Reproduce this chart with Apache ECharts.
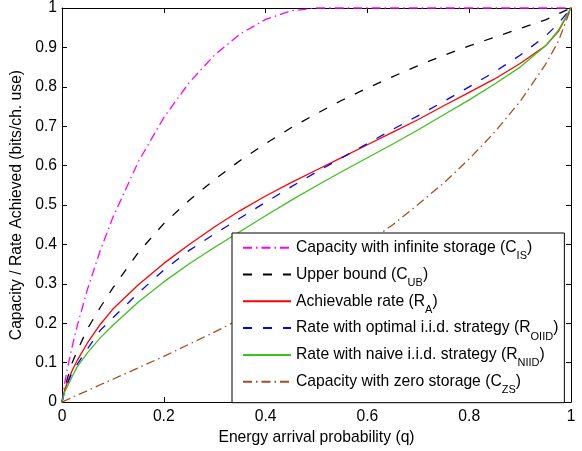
<!DOCTYPE html>
<html>
<head>
<meta charset="utf-8">
<script src="https://cdn.jsdelivr.net/npm/echarts@6/dist/echarts.min.js"></script>
<style>
html,body{margin:0;padding:0;background:#fff;}
#chart{width:582px;height:451px;}
</style>
</head>
<body>
<div id="chart"></div>
<script>
// Energy arrival probability (x)
const q = [0, 0.005, 0.01, 0.02, 0.03, 0.05, 0.075, 0.1, 0.15, 0.2, 0.25, 0.3, 0.35, 0.4, 0.45, 0.5, 0.55, 0.6, 0.65, 0.7, 0.75, 0.8, 0.85, 0.9, 0.95, 0.975, 1];
// Capacity with infinite storage (C_IS)
const cIS = [0, 0.045, 0.081, 0.141, 0.194, 0.286, 0.384, 0.469, 0.61, 0.722, 0.811, 0.881, 0.934, 0.971, 0.993, 1, 1, 1, 1, 1, 1, 1, 1, 1, 1, 1, 1];
// Upper bound (C_UB)
const cUB = [0, 0.033, 0.057, 0.1, 0.13, 0.186, 0.24, 0.29, 0.38, 0.453, 0.512, 0.565, 0.613, 0.656, 0.696, 0.732, 0.766, 0.797, 0.826, 0.854, 0.88, 0.904, 0.926, 0.948, 0.97, 0.985, 1];
// Achievable rate (R_A)
const rA = [0, 0.03, 0.048, 0.08, 0.106, 0.15, 0.197, 0.236, 0.298, 0.352, 0.4, 0.445, 0.486, 0.523, 0.557, 0.589, 0.621, 0.653, 0.685, 0.717, 0.752, 0.786, 0.82, 0.859, 0.904, 0.94, 1];
// Rate with optimal i.i.d. strategy (R_OIID)
const rOIID = [0, 0.028, 0.045, 0.075, 0.096, 0.135, 0.182, 0.214, 0.277, 0.335, 0.385, 0.427, 0.467, 0.507, 0.546, 0.584, 0.62, 0.656, 0.692, 0.727, 0.763, 0.8, 0.838, 0.88, 0.929, 0.96, 1];
// Rate with naive i.i.d. strategy (R_NIID)
const rNIID = [0, 0.025, 0.038, 0.065, 0.09, 0.125, 0.163, 0.195, 0.254, 0.305, 0.351, 0.393, 0.433, 0.473, 0.512, 0.549, 0.585, 0.62, 0.655, 0.691, 0.729, 0.767, 0.807, 0.85, 0.904, 0.943, 1];
// Capacity with zero storage (C_ZS)
const cZS = [0, 0.003, 0.006, 0.012, 0.018, 0.029, 0.044, 0.058, 0.087, 0.116, 0.147, 0.178, 0.211, 0.245, 0.282, 0.32, 0.362, 0.405, 0.45, 0.502, 0.556, 0.617, 0.685, 0.763, 0.857, 0.915, 1];

const legendBase = [
  'Capacity with infinite storage (C',
  'Upper bound (C',
  'Achievable rate (R',
  'Rate with optimal i.i.d. strategy (R',
  'Rate with naive i.i.d. strategy (R',
  'Capacity with zero storage (C'
];
const legendSub = ['IS', 'UB', 'A', 'OIID', 'NIID', 'ZS'];
const xTicks = ['0', '0.2', '0.4', '0.6', '0.8', '1'];
const xTitle = 'Energy arrival probability (q)';
const yTitle = 'Capacity / Rate Achieved (bits/ch. use)';

const seriesData = [cIS, cUB, rA, rOIID, rNIID, cZS];
const colors = ['#ff00ff', '#000000', '#ff0000', '#0000ff', '#3cc21e', '#a84e1e'];
const dashes = [[9, 4, 1.5, 4], [9, 11], 'solid', [9, 11], 'solid', [9, 4, 1.5, 4]];

const FONT = '"Liberation Sans", Arial, Helvetica, sans-serif';
const FS = 15.7;
const names = legendBase.map((b, i) => b + legendSub[i] + ')');

const chart = echarts.init(document.getElementById('chart'), null, {renderer: 'canvas'});

const axisCommon = {
  type: 'value',
  min: 0,
  max: 1,
  axisLine: {show: true, onZero: false, lineStyle: {color: '#000', width: 1}},
  axisTick: {show: true, inside: true, length: 5, lineStyle: {color: '#000', width: 1}},
  splitLine: {show: false}
};

const option = {
  backgroundColor: '#fff',
  animation: false,
  grid: {left: 62, right: 11, top: 8, bottom: 45, containLabel: false},
  xAxis: [
    Object.assign({}, axisCommon, {
      position: 'bottom', interval: 0.2,
      axisLabel: {show: true, color: '#000', fontSize: FS, fontFamily: FONT, margin: 7,
        formatter: (v) => xTicks[Math.round(v / 0.2)]},
      name: xTitle, nameLocation: 'middle', nameGap: 27,
      nameTextStyle: {color: '#000', fontSize: FS, fontFamily: FONT}
    }),
    Object.assign({}, axisCommon, {position: 'top', interval: 0.2, axisLabel: {show: false}})
  ],
  yAxis: [
    Object.assign({}, axisCommon, {
      position: 'left', interval: 0.1,
      axisLabel: {show: true, color: '#000', fontSize: FS, fontFamily: FONT, margin: 5},
      name: yTitle, nameLocation: 'middle', nameGap: 30,
      nameTextStyle: {color: '#000', fontSize: FS, fontFamily: FONT}
    }),
    Object.assign({}, axisCommon, {position: 'right', interval: 0.1, axisLabel: {show: false}})
  ],
  legend: {
    orient: 'vertical',
    left: 232,
    top: 233,
    padding: [6.7, 6, 7, 10],
    itemWidth: 48,
    itemHeight: 10,
    itemGap: 4.8,
    backgroundColor: '#fff',
    borderColor: '#000',
    borderWidth: 1,
    borderRadius: 0,
    selectedMode: false,
    itemStyle: {opacity: 0},
    data: names,
    formatter: (name) => {
      const i = names.indexOf(name);
      return '{m|' + legendBase[i] + '}{s|' + legendSub[i] + '}{m|)}';
    },
    textStyle: {
      color: '#000', fontFamily: FONT, fontSize: FS,
      rich: {
        m: {fontSize: FS, lineHeight: 18, verticalAlign: 'middle', fontFamily: FONT, color: '#000'},
        s: {fontSize: 11, verticalAlign: 'top', padding: [17, 0, 0, 0], fontFamily: FONT, color: '#000'}
      }
    }
  },
  series: seriesData.map((ys, i) => ({
    name: names[i],
    type: 'line',
    xAxisIndex: 0,
    yAxisIndex: 0,
    data: q.map((x, k) => [x, ys[k]]),
    symbol: 'none',
    showSymbol: false,
    smooth: false,
    clip: false,
    color: colors[i],
    lineStyle: {color: colors[i], width: 1.3, type: dashes[i]},
    z: 2
  }))
};

chart.setOption(option);
</script>
</body>
</html>
